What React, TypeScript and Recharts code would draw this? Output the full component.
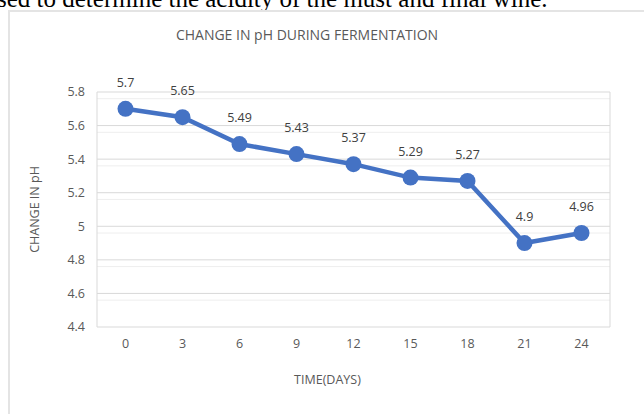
import React from 'react';
import {
  LineChart,
  Line,
  XAxis,
  YAxis,
  CartesianGrid,
  LabelList,
  ReferenceLine,
} from 'recharts';

const days = [0, 3, 6, 9, 12, 15, 18, 21, 24];
const phValues = [5.7, 5.65, 5.49, 5.43, 5.37, 5.29, 5.27, 4.9, 4.96];
const yTicks = [4.4, 4.6, 4.8, 5, 5.2, 5.4, 5.6, 5.8];
const categoryEdges = [-1.5, 1.5, 4.5, 7.5, 10.5, 13.5, 16.5, 19.5, 22.5, 25.5];

const data = days.map((day, i) => ({ day, ph: phValues[i] }));

// minor grid every 0.04 between the major ticks
const minorLines: number[] = [];
for (let i = 1; i < 35; i++) {
  if (i % 5 !== 0) minorLines.push(Math.round((4.4 + i * 0.04) * 100) / 100);
}

const FONT = '"Open Sans", sans-serif';
const GREY = '#595959';

const YTitle = (props: any) => {
  const { viewBox } = props;
  const cx = viewBox.x + 14;
  const cy = viewBox.y + viewBox.height / 2;
  return (
    <text
      x={cx}
      y={cy}
      transform={`rotate(-90 ${cx} ${cy})`}
      textAnchor="middle"
      dominantBaseline="central"
      fill={GREY}
      fontSize={12.5}
      fontFamily={FONT}
    >
      CHANGE IN pH
    </text>
  );
};

export default function App() {
  return (
    <div
      style={{
        position: 'fixed',
        left: 0,
        top: 0,
        width: 644,
        height: 414,
        background: 'white',
        overflow: 'hidden',
      }}
    >
      <div
        style={{
          position: 'absolute',
          left: -3,
          top: -14,
          fontFamily: '"Liberation Serif", serif',
          fontSize: 25,
          lineHeight: 1,
          whiteSpace: 'nowrap',
          color: '#000',
        }}
      >
        sed to determine the acidity of the must and final wine.
      </div>
      <div
        style={{
          position: 'absolute',
          left: 8,
          top: 10,
          width: 700,
          height: 500,
          border: '2px solid #e4e4e4',
        }}
      />
      <div
        style={{
          position: 'absolute',
          left: 0,
          top: 25,
          width: 614,
          textAlign: 'center',
          fontFamily: FONT,
          fontSize: 14,
          color: GREY,
        }}
      >
        CHANGE IN pH DURING FERMENTATION
      </div>
      <div style={{ position: 'absolute', left: 0, top: 0 }}>
        <LineChart
          width={644}
          height={414}
          data={data}
          margin={{ top: 92, right: 34, left: 20, bottom: 27 }}
        >
          <CartesianGrid
            xAxisId="days"
            vertical={false}
            horizontalValues={minorLines}
            stroke="#eeeeee"
          />
          <CartesianGrid
            xAxisId="days"
            vertical={false}
            horizontalValues={yTicks}
            stroke="#d9d9d9"
          />
          <XAxis
            xAxisId="edges"
            dataKey="day"
            type="number"
            domain={[-1.5, 25.5]}
            ticks={categoryEdges}
            height={0}
            tick={false}
            tickSize={5}
            tickLine={{ stroke: '#d9d9d9' }}
            axisLine={{ stroke: '#d9d9d9' }}
          />
          <XAxis
            xAxisId="days"
            dataKey="day"
            type="number"
            domain={[-1.5, 25.5]}
            ticks={days}
            height={60}
            tickSize={0}
            tickMargin={12}
            tickLine={false}
            axisLine={false}
            tick={{ fill: GREY, fontSize: 12.5, fontFamily: FONT }}
            label={{
              value: 'TIME(DAYS)',
              position: 'insideBottom',
              offset: 3,
              dx: -26,
              fill: GREY,
              fontSize: 12.5,
              fontFamily: FONT,
            }}
          />
          <YAxis
            domain={[4.4, 5.8]}
            ticks={yTicks}
            width={77}
            tickLine={false}
            tickSize={0}
            tickMargin={12}
            axisLine={{ stroke: '#d9d9d9' }}
            tick={{ fill: GREY, fontSize: 12.5, fontFamily: FONT }}
            label={{ content: YTitle }}
          />
          <ReferenceLine xAxisId="days" x={25.5} stroke="#d9d9d9" />
          <Line
            xAxisId="days"
            type="linear"
            dataKey="ph"
            stroke="#4472C4"
            strokeWidth={4.5}
            dot={{ r: 8, fill: '#4472C4', stroke: '#4472C4', strokeWidth: 0 }}
            activeDot={false}
            isAnimationActive={false}
          >
            <LabelList
              dataKey="ph"
              position="top"
              offset={22}
              fill="#404040"
              fontSize={12.5}
              fontFamily={FONT}
            />
          </Line>
        </LineChart>
      </div>
    </div>
  );
}
